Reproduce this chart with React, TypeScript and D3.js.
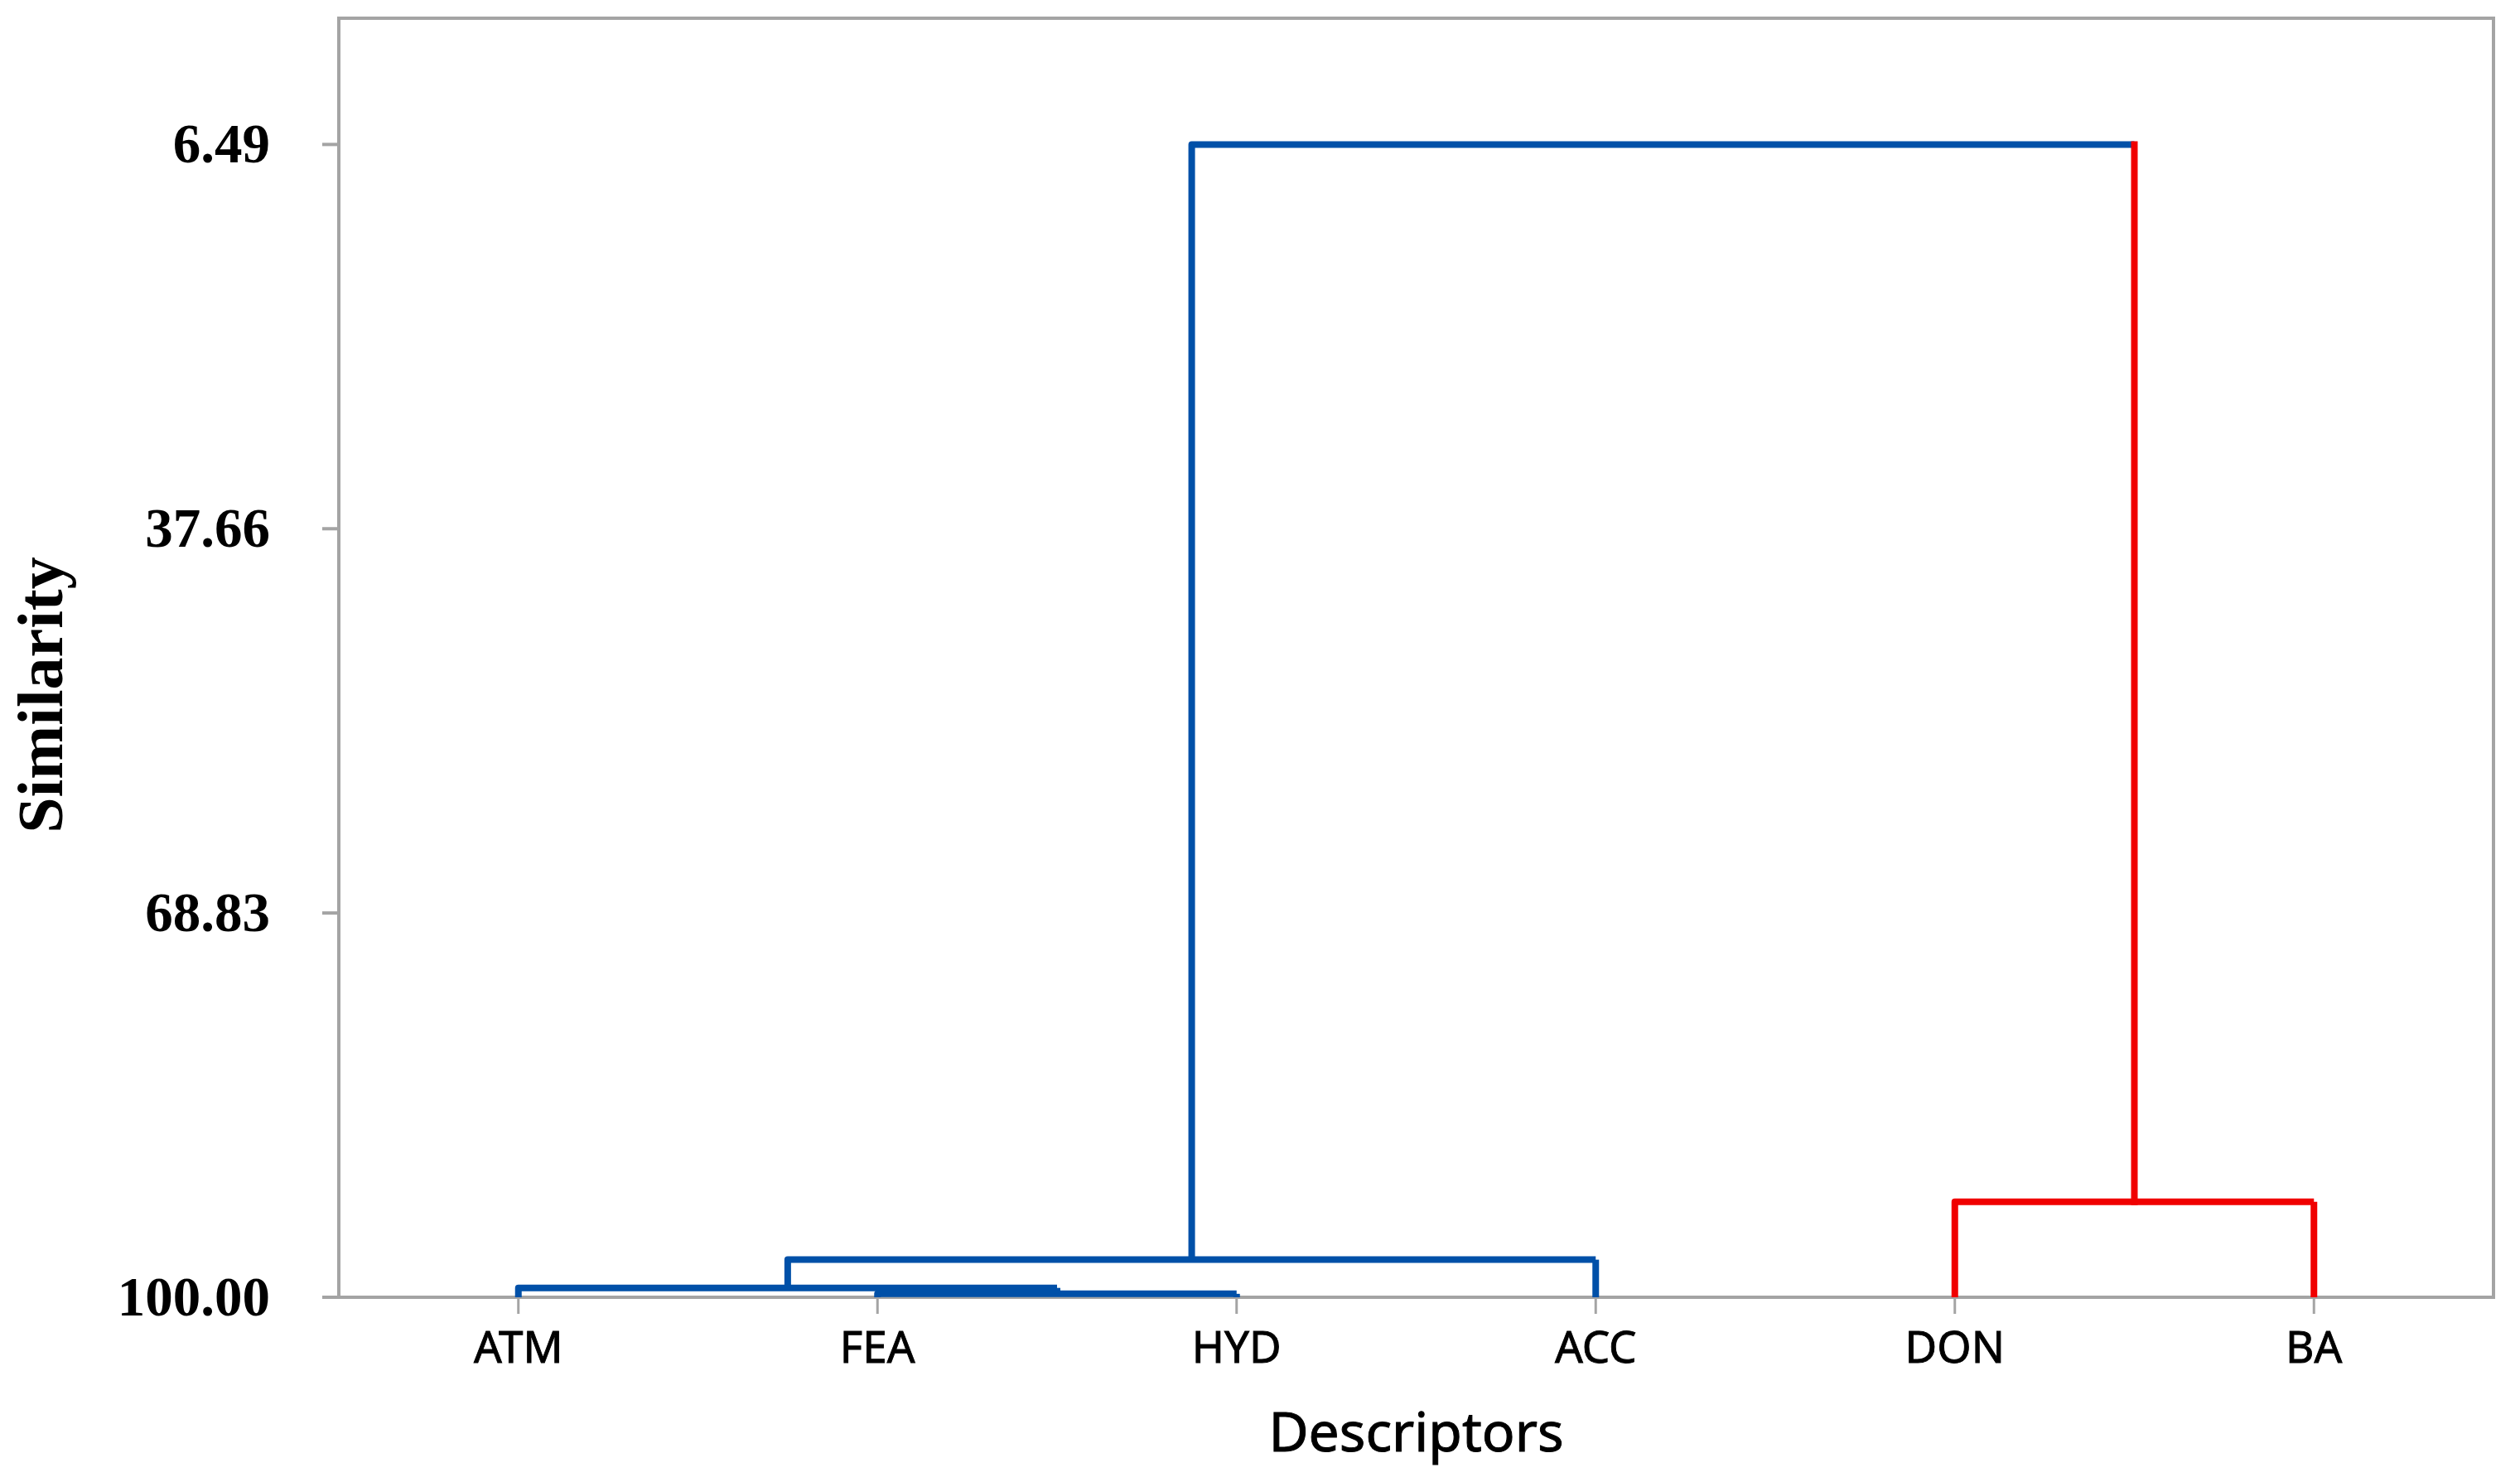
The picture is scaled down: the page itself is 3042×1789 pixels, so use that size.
import React from "react";
import * as d3 from "d3";

// ---- data ----
const leaves = ["ATM", "FEA", "HYD", "ACC", "DON", "BA"];
const leafCluster = [0, 0, 0, 0, 1, 1];
const clusterColors = ["#0050A8", "#F00000"];
const yTickValues = [6.49, 37.66, 68.83, 100.0];
// merge steps (agglomeration order)
const mergeIds = ["M1", "M2", "M3", "M4", "M5"];
const mergeLeft = ["FEA", "ATM", "M2", "DON", "M3"];
const mergeRight = ["HYD", "M1", "ACC", "BA", "M4"];
const mergeSimilarity = [99.72, 99.24, 96.95, 92.25, 6.49];

const W = 3042;
const H = 1789;
const plot = { left: 409, right: 3010, top: 22, bottom: 1566 };

export default function App() {
  const x = d3
    .scalePoint<string>()
    .domain(leaves)
    .range([plot.left, plot.right])
    .padding(0.5);
  const y = d3.scaleLinear().domain([100, -3.75]).range([plot.bottom, plot.top]);

  // node positions
  const nodes: Record<string, { x: number; sim: number; color: string }> = {};
  leaves.forEach((l, i) => {
    nodes[l] = { x: x(l) as number, sim: 100, color: clusterColors[leafCluster[i]] };
  });
  const segs: { d: string; color: string; cap: string }[] = [];
  mergeIds.forEach((id, i) => {
    const a = nodes[mergeLeft[i]];
    const b = nodes[mergeRight[i]];
    const s = mergeSimilarity[i];
    const nx = (a.x + b.x) / 2;
    const path1 = d3.path();
    path1.moveTo(a.x, y(a.sim));
    path1.lineTo(a.x, y(s));
    path1.lineTo(b.x, y(s));
    segs.push({ d: path1.toString(), color: a.color, cap: "butt" });
    const path2 = d3.path();
    path2.moveTo(b.x, y(s));
    path2.lineTo(b.x, y(b.sim));
    segs.push({ d: path2.toString(), color: b.color, cap: a.color === b.color ? "butt" : "square" });
    nodes[id] = { x: nx, sim: s, color: a.color };
  });

  const gray = "#A4A4A4";
  const serif = "'Liberation Serif', 'Times New Roman', serif";
  const sans = "'Noto Sans', 'Open Sans', sans-serif";

  return (
    <svg
      width={W}
      height={H}
      style={{ position: "absolute", left: 0, top: 0, background: "#fff" }}
    >
      <rect x={0} y={0} width={W} height={H} fill="#fff" />
      {/* frame */}
      <rect
        x={plot.left}
        y={plot.top}
        width={plot.right - plot.left}
        height={plot.bottom - plot.top}
        fill="none"
        stroke={gray}
        strokeWidth={4}
      />
      {/* y ticks */}
      {yTickValues.map((v) => (
        <g key={"yt" + v}>
          <line x1={plot.left - 20} x2={plot.left} y1={y(v)} y2={y(v)} stroke={gray} strokeWidth={4} />
          <text
            x={326}
            y={y(v) + 22}
            textAnchor="end"
            fontFamily={serif}
            fontWeight="bold"
            fontSize={67}
            fill="#000"
          >
            {v.toFixed(2)}
          </text>
        </g>
      ))}
      {/* x ticks */}
      {leaves.map((l) => (
        <g key={"xt" + l}>
          <line x1={x(l)} x2={x(l)} y1={plot.bottom} y2={plot.bottom + 20} stroke={gray} strokeWidth={3} />
          <text
            x={x(l)}
            y={1645}
            textAnchor="middle"
            fontFamily={sans}
            fontSize={53}
            fill="#000"
            stroke="#000"
            strokeWidth={0.9}
          >
            {l}
          </text>
        </g>
      ))}
      {/* dendrogram */}
      {segs
        .filter((s) => s.color === clusterColors[0])
        .concat(segs.filter((s) => s.color !== clusterColors[0]))
        .map((s, i) => (
          <path
            key={"s" + i}
            d={s.d}
            fill="none"
            stroke={s.color}
            strokeWidth={8}
            strokeLinejoin="round"
            strokeLinecap={s.cap as any}
          />
        ))}
      {/* axis titles */}
      <text
        x={(plot.left + plot.right) / 2}
        y={1752}
        textAnchor="middle"
        fontFamily={sans}
        fontSize={66}
        fill="#000"
        stroke="#000"
        strokeWidth={1}
      >
        Descriptors
      </text>
      <text
        transform={`translate(75, ${839}) rotate(-90)`}
        textAnchor="middle"
        fontFamily={serif}
        fontWeight="bold"
        fontSize={78}
        fill="#000"
      >
        Similarity
      </text>
    </svg>
  );
}
